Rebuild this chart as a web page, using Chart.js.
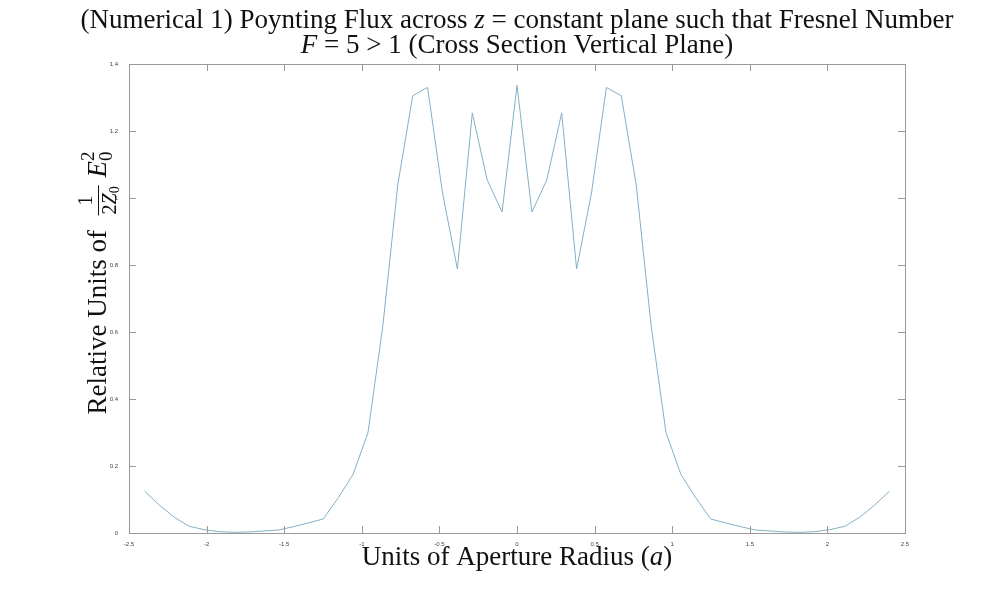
<!DOCTYPE html>
<html>
<head>
<meta charset="utf-8">
<script src="https://cdn.jsdelivr.net/npm/chart.js@4.4.0/dist/chart.umd.min.js"></script>
<style>
html, body { margin: 0; padding: 0; background: #fff; }
#wrap { width: 1000px; height: 599px; }
</style>
</head>
<body>
<div id="wrap"><canvas id="myChart"></canvas></div>
<script>
// positions across the cross section (units of aperture radius)
const xValues = [
    -2.4, -2.304, -2.208, -2.112, -2.016, -1.92, -1.824, -1.728, -1.632, -1.536,
    -1.44, -1.344, -1.248, -1.152, -1.056, -0.96, -0.864, -0.768, -0.672, -0.576,
    -0.48, -0.384, -0.288, -0.192, -0.096, 0,
    0.096, 0.192, 0.288, 0.384, 0.48, 0.576, 0.672, 0.768, 0.864, 0.96,
    1.056, 1.152, 1.248, 1.344, 1.44, 1.536, 1.632, 1.728, 1.824, 1.92,
    2.016, 2.112, 2.208, 2.304, 2.4
]
// relative flux
const fluxValues = [
    0.125, 0.083, 0.047, 0.020, 0.010, 0.004, 0.002, 0.003, 0.006, 0.009,
    0.019, 0.030, 0.042, 0.105, 0.175, 0.300, 0.620, 1.040, 1.305, 1.330,
    1.015, 0.788, 1.254, 1.054, 0.958, 1.336,
    0.958, 1.054, 1.254, 0.788, 1.015, 1.330, 1.305, 1.040, 0.620, 0.300,
    0.175, 0.105, 0.042, 0.030, 0.019, 0.009, 0.006, 0.003, 0.002, 0.004,
    0.010, 0.020, 0.047, 0.083, 0.125
]
const xTicks = [-2.5, -2, -1.5, -1, -0.5, 0, 0.5, 1, 1.5, 2, 2.5]
const yTicks = [0, 0.2, 0.4, 0.6, 0.8, 1, 1.2, 1.4]

const titleLine1 = [{t: '(Numerical 1) Poynting Flux across '}, {t: 'z', i: true}, {t: ' = constant plane such that Fresnel Number'}]
const titleLine2 = [{t: 'F', i: true}, {t: ' = 5 > 1 (Cross Section Vertical Plane)'}]
const xLabel = [{t: 'Units of Aperture Radius ('}, {t: 'a', i: true}, {t: ')'}]
const yLabel = [
    {t: 'Relative Units of  '},
    {frac: true, num: [{t: '1', s: 20}], den: [{t: '2', s: 20}, {t: 'Z', s: 20, i: true}, {t: '0', s: 14, dy: 3}]},
    {t: ' E', i: true}, {t: '0', s: 19, dy: 6}, {t: '2', s: 19, dy: -12, over: true}
]

/////////////////////////////////////////////////////////////
// rich text helpers (italic letters, sub/superscripts, fraction)
const baseSize = 27
function partFont(p) {
    return (p.i ? 'italic ' : '') + (p.s || baseSize) + 'px "Liberation Serif", serif'
}
function partWidth(ctx, p) {
    if (p.frac) return Math.max(partsWidth(ctx, p.num), partsWidth(ctx, p.den)) + 4
    ctx.font = partFont(p)
    return ctx.measureText(p.t).width
}
function partsWidth(ctx, parts) {
    let w = 0, last = 0
    for (const p of parts) {
        const pw = partWidth(ctx, p)
        if (p.over) { w += Math.max(0, pw - last) } else { w += pw; last = pw }
    }
    return w
}
function drawParts(ctx, parts, x, y) {
    let last = 0
    for (const p of parts) {
        if (p.frac) {
            const w = partWidth(ctx, p)
            const nw = partsWidth(ctx, p.num), dw = partsWidth(ctx, p.den)
            drawParts(ctx, p.num, x + (w - nw) / 2, y - 14)
            drawParts(ctx, p.den, x + (w - dw) / 2, y + 10)
            ctx.fillRect(x + 1, y - 8, w - 2, 1)
            x += w
            last = w
            continue
        }
        ctx.font = partFont(p)
        const w = ctx.measureText(p.t).width
        if (p.over) {
            ctx.fillText(p.t, x - last, y + (p.dy || 0))
            x += Math.max(0, w - last)
        } else {
            ctx.fillText(p.t, x, y + (p.dy || 0))
            x += w
            last = w
        }
    }
}

// titles and axis labels
const labelsPlugin = {
    id: 'labelsPlugin',
    afterDraw(chart) {
        const ctx = chart.ctx
        const area = chart.chartArea
        const cx = (area.left + area.right) / 2
        ctx.save()
        ctx.fillStyle = '#111'
        ctx.textBaseline = 'alphabetic'
        ctx.textAlign = 'left'
        drawParts(ctx, titleLine1, cx - partsWidth(ctx, titleLine1) / 2, 28)
        drawParts(ctx, titleLine2, cx - partsWidth(ctx, titleLine2) / 2, 53)
        drawParts(ctx, xLabel, cx - partsWidth(ctx, xLabel) / 2, 565)
        ctx.translate(106, 283)
        ctx.rotate(-Math.PI / 2)
        drawParts(ctx, yLabel, -partsWidth(ctx, yLabel) / 2, 0)
        ctx.restore()
    }
}

// matlab style box with inward ticks on all sides
const boxPlugin = {
    id: 'boxPlugin',
    afterDatasetsDraw(chart) {
        const ctx = chart.ctx
        const a = chart.chartArea
        const xs = chart.scales.x, ys = chart.scales.y
        const len = 7
        ctx.save()
        ctx.strokeStyle = '#9a9a9a'
        ctx.lineWidth = 1
        ctx.strokeRect(Math.round(a.left) + 0.5, Math.round(a.top) + 0.5, Math.round(a.right - a.left), Math.round(a.bottom - a.top))
        ctx.beginPath()
        xTicks.forEach(v => {
            const px = Math.round(xs.getPixelForValue(v)) + 0.5
            ctx.moveTo(px, a.bottom); ctx.lineTo(px, a.bottom - len)
            ctx.moveTo(px, a.top); ctx.lineTo(px, a.top + len)
        })
        yTicks.forEach(v => {
            const py = Math.round(ys.getPixelForValue(v)) + 0.5
            ctx.moveTo(a.left, py); ctx.lineTo(a.left + len, py)
            ctx.moveTo(a.right, py); ctx.lineTo(a.right - len, py)
        })
        ctx.stroke()
        ctx.restore()
    }
}

/////////////////////////////////////////////////////////////
// setup
const data = {
    datasets: [{
        label: 'Poynting flux',
        data: xValues.map((x, i) => ({x: x, y: fluxValues[i]})),
        borderColor: 'rgb(132, 176, 198)',
        borderWidth: 1,
        pointRadius: 0,
        fill: false,
        tension: 0
    }]
}

const tickFont = {size: 6, family: '"Liberation Sans", sans-serif'}

// config
const config = {
    type: 'line',
    data,
    plugins: [boxPlugin, labelsPlugin],
    options: {
        responsive: true,
        maintainAspectRatio: false,
        animation: false,
        layout: {padding: {left: 0, top: 64, right: 95, bottom: 0}},
        plugins: {
            legend: {display: false},
            tooltip: {enabled: false}
        },
        scales: {
            x: {
                type: 'linear',
                min: -2.5,
                max: 2.5,
                afterBuildTicks: (scale) => { scale.ticks = xTicks.map(v => ({value: v})) },
                afterFit: (scale) => { scale.height = 66 },
                ticks: {
                    font: tickFont,
                    color: '#444',
                    padding: 0,
                    maxRotation: 0,
                    autoSkip: false,
                    callback: (v) => String(v)
                },
                grid: {display: false},
                border: {display: false}
            },
            y: {
                min: 0,
                max: 1.4,
                afterBuildTicks: (scale) => { scale.ticks = yTicks.map(v => ({value: v})) },
                afterFit: (scale) => { scale.width = 129 },
                ticks: {
                    font: tickFont,
                    color: '#444',
                    padding: 3,
                    autoSkip: false,
                    callback: (v) => String(v)
                },
                grid: {display: false},
                border: {display: false}
            }
        }
    }
}

// render / init
const myChart = new Chart(document.getElementById('myChart'), config)
</script>
</body>
</html>
